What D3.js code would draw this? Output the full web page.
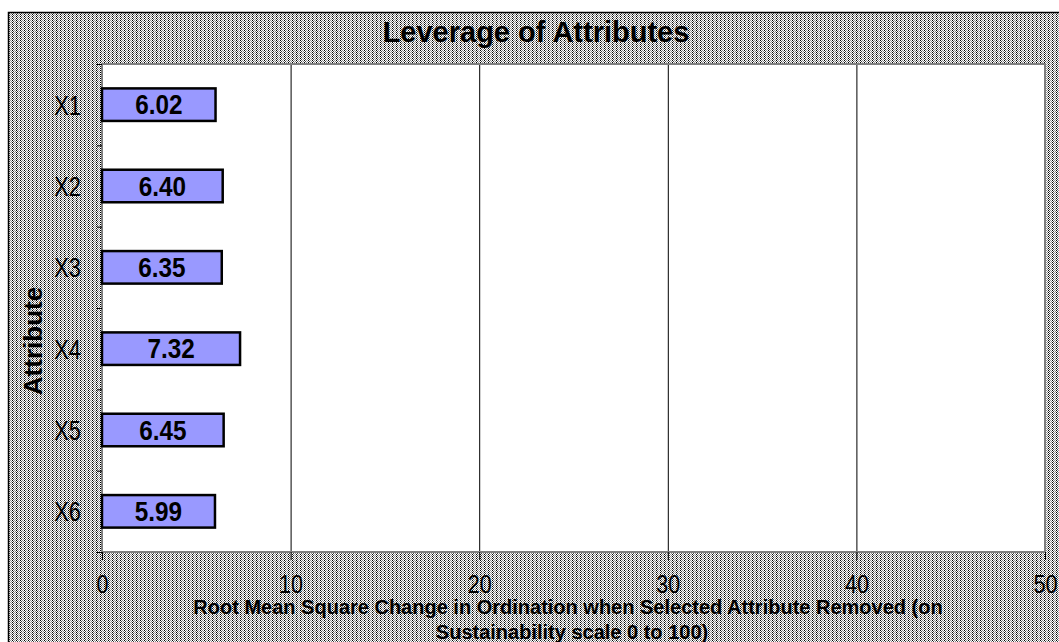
<!DOCTYPE html>
<html>
<head>
<meta charset="utf-8">
<script src="https://cdn.jsdelivr.net/npm/d3@7"></script>
<style>
  body { margin: 0; background: #fff; }
  text { font-family: "Liberation Sans", Arial, sans-serif; fill: #000; }
</style>
</head>
<body>
<script>
const attributes = ["X1", "X2", "X3", "X4", "X5", "X6"];
const leverage = [6.02, 6.40, 6.35, 7.32, 6.45, 5.99];
const xTicks = [0, 10, 20, 30, 40, 50];
const gridTicks = [10, 20, 30, 40];

const w = 1059;
const h = 642;
const plot = {left: 102, top: 64, right: 1045, bottom: 552};

const svg = d3.select("body")
  .append("svg")
  .attr("width", w)
  .attr("height", h);

// dithered grey fill, like the old excel export
const defs = svg.append("defs");
const pat = defs.append("pattern")
  .attr("id", "dither")
  .attr("patternUnits", "userSpaceOnUse")
  .attr("width", 4)
  .attr("height", 4);
pat.append("rect").attr("width", 4).attr("height", 4).attr("fill", "#fff");
[[0, 0, "#000"], [1, 1, "#444"], [0, 2, "#000"], [1, 3, "#444"],
 [2, 0, "#999"], [3, 1, "#888"], [2, 2, "#999"], [3, 3, "#888"]].forEach(p => {
  pat.append("rect").attr("x", p[0]).attr("y", p[1])
    .attr("width", 1).attr("height", 1).attr("fill", p[2]);
});

svg.append("rect")
  .attr("x", 8.5)
  .attr("y", 12.5)
  .attr("width", 1100)
  .attr("height", 700)
  .attr("fill", "url(#dither)")
  .attr("stroke", "#000")
  .attr("stroke-width", 1.5);

const x = d3.scaleLinear()
  .domain([0, 50])
  .range([plot.left, plot.right]);

const y = d3.scaleBand()
  .domain(attributes)
  .range([plot.top, plot.bottom])
  .paddingInner(0.6)
  .paddingOuter(0.3);

const yEdge = d3.scaleLinear()
  .domain([0, attributes.length])
  .range([plot.top, plot.bottom]);

// plot area
svg.append("rect")
  .attr("x", plot.left)
  .attr("y", plot.top)
  .attr("width", plot.right - plot.left)
  .attr("height", plot.bottom - plot.top)
  .attr("fill", "#fff");

//gridlines
svg.append("g")
  .attr("transform", `translate(0,${plot.bottom})`)
  .call(d3.axisBottom(x)
    .tickValues(gridTicks)
    .tickSize(-(plot.bottom - plot.top))
    .tickFormat(""))
  .call(g => g.select(".domain").remove())
  .selectAll("line")
    .attr("stroke", "#000")
    .attr("stroke-width", 1);

svg.append("rect")
  .attr("x", plot.left)
  .attr("y", plot.top)
  .attr("width", plot.right - plot.left)
  .attr("height", plot.bottom - plot.top)
  .attr("fill", "none")
  .attr("stroke", "#808080")
  .attr("stroke-width", 2);

//x axis
const xAxis = svg.append("g")
  .attr("transform", `translate(0,${plot.bottom})`)
  .call(d3.axisBottom(x)
    .tickValues(xTicks)
    .tickSize(8));
xAxis.select(".domain").remove();
xAxis.selectAll("line").attr("stroke", "#000");
xAxis.selectAll("text")
  .attr("y", 0)
  .attr("dy", null)
  .attr("font-size", 26)
  .attr("font-family", "Liberation Sans, Arial, sans-serif")
  .attr("transform", "translate(0,41) scale(0.83,1)");

//y axis ticks at band edges
svg.append("g")
  .attr("transform", `translate(${plot.left},0)`)
  .call(d3.axisLeft(yEdge)
    .tickValues(d3.range(attributes.length + 1))
    .tickSize(5)
    .tickFormat(""))
  .call(g => g.select(".domain").remove())
  .selectAll("line").attr("stroke", "#000");

const yAxis = svg.append("g")
  .attr("transform", `translate(${plot.left},0)`)
  .call(d3.axisLeft(y).tickSize(0));
yAxis.select(".domain").remove();
yAxis.selectAll("text")
  .attr("x", 0)
  .attr("dy", "0.36em")
  .attr("font-size", 28)
  .attr("font-family", "Liberation Sans, Arial, sans-serif")
  .attr("transform", "translate(-21,0) scale(0.78,1)");

//bars
const bars = svg.append("g")
  .selectAll("g")
  .data(attributes.map((a, i) => ({attr: a, value: leverage[i]})))
  .enter().append("g");

bars.append("rect")
  .attr("x", x(0))
  .attr("y", d => y(d.attr))
  .attr("width", d => x(d.value) - x(0))
  .attr("height", y.bandwidth())
  .attr("fill", "#9999ff")
  .attr("stroke", "#000")
  .attr("stroke-width", 2.5);

bars.append("text")
  .attr("transform", d => `translate(${(x(0) + x(d.value)) / 2},${y(d.attr) + y.bandwidth() / 2}) scale(0.9,1)`)
  .attr("text-anchor", "middle")
  .attr("dy", "0.36em")
  .attr("font-size", 27)
  .attr("font-weight", "bold")
  .text(d => d.value.toFixed(2));

//titles
svg.append("text")
  .attr("x", 536)
  .attr("y", 42)
  .attr("text-anchor", "middle")
  .attr("font-size", 29)
  .attr("font-weight", "bold")
  .text("Leverage of Attributes");

svg.append("text")
  .attr("transform", "translate(42,341) rotate(-90)")
  .attr("text-anchor", "middle")
  .attr("font-size", 26)
  .attr("font-weight", "bold")
  .text("Attribute");

svg.append("text")
  .attr("x", 568)
  .attr("y", 614)
  .attr("text-anchor", "middle")
  .attr("font-size", 20)
  .attr("font-weight", "bold")
  .text("Root Mean Square Change in Ordination when Selected Attribute Removed (on");

svg.append("text")
  .attr("x", 572)
  .attr("y", 639)
  .attr("text-anchor", "middle")
  .attr("font-size", 20)
  .attr("font-weight", "bold")
  .text("Sustainability scale 0 to 100)");
</script>
</body>
</html>
